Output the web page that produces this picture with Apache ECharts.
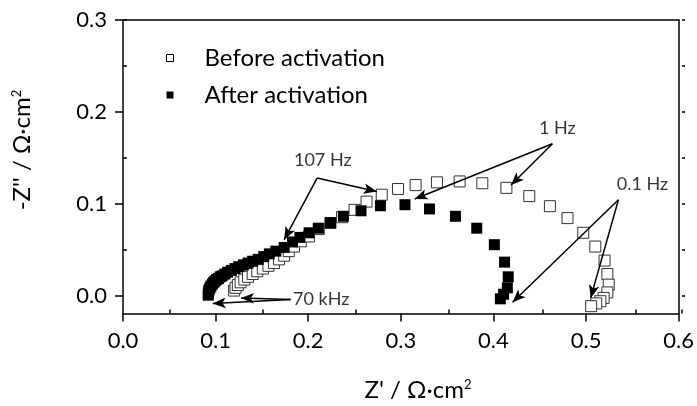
<!DOCTYPE html>
<html><head><meta charset="utf-8">
<script src="https://cdn.jsdelivr.net/npm/echarts@6/dist/echarts.min.js"></script>
<style>html,body{margin:0;padding:0;background:#fff}#c{width:697px;height:406px}</style>
</head><body><div id="c"></div>
<script>
// ---- data ----
const seriesNames = ['Before activation', 'After activation'];
// [Z', -Z''] in Ohm·cm²
const beforeZ = [
  [0.120,0.005],[0.1215,0.008],[0.124,0.011],[0.127,0.014],[0.131,0.017],[0.135,0.020],
  [0.140,0.023],[0.145,0.026],[0.151,0.029],[0.157,0.032],[0.163,0.035],[0.1685,0.039],
  [0.174,0.043],[0.179,0.048],[0.1846,0.053],[0.192,0.0587],[0.2007,0.064],[0.2114,0.072],
  [0.224,0.0787],[0.2365,0.085],[0.250,0.093],[0.263,0.102],[0.2794,0.1095],[0.297,0.1157],
  [0.316,0.120],[0.339,0.123],[0.3635,0.124],[0.388,0.122],[0.414,0.117],[0.4387,0.108],
  [0.461,0.097],[0.480,0.084],[0.497,0.068],[0.510,0.053],[0.520,0.0377],[0.523,0.023],
  [0.5245,0.0115],[0.523,0.003],[0.519,-0.003],[0.5155,-0.0066],[0.511,-0.009],[0.5055,-0.012]
];
const afterZ = [
  [0.092,0.000],[0.0922,0.002],[0.0925,0.004],[0.093,0.006],[0.094,0.008],[0.095,0.010],
  [0.0966,0.012],[0.098,0.014],[0.0995,0.0155],[0.101,0.017],[0.103,0.018],[0.105,0.020],
  [0.107,0.021],[0.110,0.023],[0.113,0.025],[0.117,0.027],[0.121,0.029],[0.125,0.031],
  [0.130,0.033],[0.135,0.035],[0.140,0.037],[0.146,0.039],[0.152,0.042],[0.158,0.045],
  [0.165,0.048],[0.174,0.052],[0.183,0.058],[0.191,0.063],[0.201,0.068],[0.211,0.073],
  [0.224,0.079],[0.238,0.086],[0.257,0.092],[0.278,0.0975],[0.3045,0.0986],[0.331,0.094],
  [0.359,0.086],[0.382,0.073],[0.401,0.055],[0.412,0.036],[0.416,0.020],[0.415,0.008],
  [0.411,0.001],[0.4075,-0.004]
];
const xTickLabels = ['0.0','0.1','0.2','0.3','0.4','0.5','0.6'];
const yTickLabels = ['0.0','0.1','0.2','0.3'];
const xTitle = "Z' / Ω·cm";
const yTitle = "-Z'' / Ω·cm";
// frequency annotations (data coordinates)
const noteTexts = ['107 Hz', '1 Hz', '0.1 Hz', '70 kHz'];
const noteAt = [[0.2157,0.1476],[0.469,0.1824],[0.561,0.1215],[0.2141,-0.0048]];
const arrowFrom = [[0.2096,0.1277],[0.2096,0.1277],[0.4637,0.165],[0.4637,0.165],[0.535,0.104],[0.535,0.104],[0.181,-0.0048],[0.181,-0.0048]];
const arrowTo   = [[0.274,0.113],[0.174,0.0605],[0.419,0.120],[0.315,0.1048],[0.505,-0.003],[0.4207,-0.0077],[0.0969,-0.0091],[0.1274,-0.003]];

// ---- chart ----
const FONT = 'Lato';
const chart = echarts.init(document.getElementById('c'));
const line = {lineStyle:{color:'#000', width:1.5}};
const off = {show:false};
const hiddenX = (g, mn, mx) => ({gridIndex:g, type:'value', min:mn, max:mx, show:false});
const hiddenY = hiddenX;

chart.setOption({
  animation: false,
  backgroundColor: '#fff',
  grid: [
    {left:123, right:15, top:20, bottom:92.5},   // data grid
    {left:123, right:15, top:20, bottom:110.4},  // y labels (0..0.3)
    {left:169.6, right:15, top:20, bottom:92.5}, // x minor ticks (0.05..)
    {left:123, right:15, top:20, bottom:156.3}   // y minor ticks (0.05..)
  ],
  xAxis: [
    {gridIndex:0, type:'value', position:'bottom', min:0, max:0.6, interval:0.1,
     axisLine:{show:true, onZero:false, ...line},
     axisTick:{show:true, inside:false, length:8, lineStyle:{color:'#000', width:1.5}},
     axisLabel:{margin:16, fontFamily:FONT, fontSize:22, color:'#000',
       formatter: v => xTickLabels[Math.round(v*10)]},
     splitLine:off},
    {gridIndex:0, type:'value', position:'top', min:0, max:0.6,
     axisLine:{show:true, onZero:false, ...line}, axisTick:off, axisLabel:off, splitLine:off},
    hiddenX(1, 0, 0.6),
    {gridIndex:2, type:'value', position:'bottom', min:0.05, max:0.6, interval:0.1,
     axisLine:{show:false, onZero:false}, axisTick:{show:true, inside:true, length:4, lineStyle:{color:'#000', width:1.5}},
     axisLabel:off, splitLine:off},
    hiddenX(3, 0, 0.6)
  ],
  yAxis: [
    {gridIndex:0, type:'value', position:'left', min:-0.02, max:0.3,
     axisLine:{show:true, onZero:false, ...line}, axisTick:off, axisLabel:off, splitLine:off},
    {gridIndex:0, type:'value', position:'right', min:-0.02, max:0.3,
     axisLine:{show:true, onZero:false, ...line}, axisTick:off, axisLabel:off, splitLine:off},
    {gridIndex:1, type:'value', position:'left', min:0, max:0.3, interval:0.1,
     axisLine:{show:false, onZero:false}, axisTick:{show:true, inside:false, length:8, lineStyle:{color:'#000', width:1.5}},
     axisLabel:{margin:16, fontFamily:FONT, fontSize:22, color:'#000',
       formatter: v => yTickLabels[Math.round(v*10)]},
     splitLine:off},
    {gridIndex:1, type:'value', position:'right', min:0, max:0.3, interval:0.05,
     axisLine:{show:false, onZero:false}, axisTick:{show:true, inside:false, length:3, lineStyle:{color:'#000', width:1.5}},
     axisLabel:off, splitLine:off},
    hiddenY(2, 0, 1),
    {gridIndex:3, type:'value', position:'left', min:0.05, max:0.3, interval:0.1,
     axisLine:{show:false, onZero:false}, axisTick:{show:true, inside:true, length:4, lineStyle:{color:'#000', width:1.5}},
     axisLabel:off, splitLine:off}
  ],
  legend: {
    orient:'vertical', left:161, top:41, itemWidth:7, itemHeight:7, itemGap:13,
    icon:'rect', selectedMode:false,
    data:[
      {name:seriesNames[0], itemStyle:{color:'#fff', borderColor:'#000', borderWidth:1}},
      {name:seriesNames[1], itemStyle:{color:'#000'}}
    ],
    textStyle:{fontFamily:FONT, fontSize:24, color:'#000', padding:[0,0,0,26], lineHeight:24}
  },
  graphic: [
    {type:'text', x:418, y:390,
     style:{text:'{a|' + xTitle + '}{s|2}', align:'center', verticalAlign:'middle',
       textAlign:'center', textVerticalAlign:'middle',
       rich:{a:{fontFamily:FONT, fontSize:24, fill:'#000', color:'#000'},
             s:{fontFamily:FONT, fontSize:13, fill:'#000', color:'#000', verticalAlign:'top'}}}},
    {type:'text', x:22, y:150, rotation:Math.PI/2,
     style:{text:'{a|' + yTitle + '}{s|2}', align:'center', verticalAlign:'middle',
       textAlign:'center', textVerticalAlign:'middle',
       rich:{a:{fontFamily:FONT, fontSize:24, fill:'#000', color:'#000'},
             s:{fontFamily:FONT, fontSize:13, fill:'#000', color:'#000', verticalAlign:'top'}}}}
  ],
  series: [
    {name:seriesNames[0], type:'scatter', xAxisIndex:0, yAxisIndex:0, symbol:'rect', symbolSize:11,
     itemStyle:{color:'#fff', borderColor:'#333', borderWidth:1, opacity:1}, data:beforeZ, silent:true},
    {name:seriesNames[1], type:'scatter', xAxisIndex:0, yAxisIndex:0, symbol:'rect', symbolSize:11,
     itemStyle:{color:'#000', opacity:1}, data:afterZ, silent:true},
    {name:'notes', type:'scatter', xAxisIndex:0, yAxisIndex:0, symbolSize:0, silent:true,
     data: noteTexts.map((t,i) => [noteAt[i][0], noteAt[i][1], t]),
     label:{show:true, position:'inside', formatter: p => p.value[2],
       fontFamily:FONT, fontSize:18, color:'#000'},
     markLine:{silent:true, symbol:['none','arrow'], symbolSize:[8,13], animation:false,
       lineStyle:{color:'#000', width:1.5, type:'solid'}, label:{show:false},
       emphasis:{disabled:true},
       data: arrowFrom.map((a,i) => [{coord:a}, {coord:arrowTo[i]}])}}
  ]
});
</script></body></html>
